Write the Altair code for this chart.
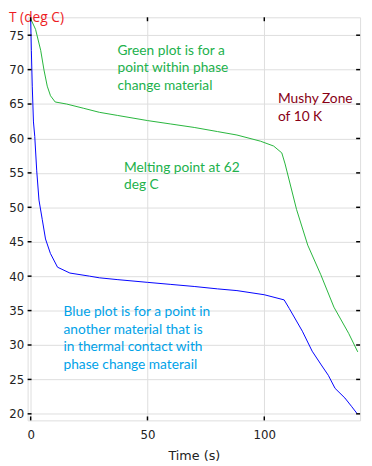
import altair as alt
import pandas as pd

# Green curve: point within phase change material
green_t = [0, 2.1, 4.3, 5.7, 7.1, 8.5, 10.5, 15.4, 22.5, 29.4, 37.1, 50, 60, 70, 80, 88.3,
           98.4, 104, 107.5, 108.9, 113.8, 118.6, 124.2, 129.8, 136.1, 140]
green_T = [77.4, 75.85, 72.8, 69.95, 67.6, 66.2, 65.3, 65.0, 64.4, 63.8, 63.35, 62.6, 62.1, 61.6, 61.0, 60.5,
           59.6, 58.9, 57.9, 56.3, 49.7, 44.5, 40.2, 35.5, 31.7, 29.0]

# Blue curve: point in another material in thermal contact
blue_t = [0, 0.3, 0.7, 1.2, 1.76, 2.6, 3.56, 4.98, 6.36, 8.45, 11.5, 16.8, 25.2, 29.4, 37.0, 50, 60, 70,
          80, 88.3, 100, 108.5, 110.7, 116.3, 120.5, 124.4, 127.4, 130.3, 134.5, 137.3, 139.8]
blue_T = [77.4, 72.8, 67.5, 62.4, 60.3, 55.3, 51.05, 48.2, 45.4, 43.3, 41.3, 40.45, 40.0, 39.76, 39.5, 39.1, 38.8, 38.5,
          38.15, 37.9, 37.3, 36.55, 35.3, 32.0, 29.1, 27.1, 25.6, 23.7, 22.3, 21.1, 20.0]

y_ticks = [20, 25, 30, 35, 40, 45, 50, 55, 60, 65, 70, 75]
x_ticks = [0, 50, 100]

W, H = 339, 411

df = pd.concat([
    pd.DataFrame({"t": green_t, "T": green_T, "s": "green"}),
    pd.DataFrame({"t": blue_t, "T": blue_T, "s": "blue"}),
])

xs = alt.Scale(domain=[-1.3, 141], nice=False, zero=False)
ys = alt.Scale(domain=[19.05, 77.6], nice=False, zero=False)

x_axis = alt.Axis(
    values=x_ticks, grid=True, gridColor="#dddddd", ticks=False, domain=False,
    labelFont="DejaVu Sans", labelFontSize=12, labelColor="#222222", labelPadding=9,
    labelOverlap=False,
    title="Time (s)", titleFont="DejaVu Sans", titleFontSize=13, titleFontWeight="normal",
    titleColor="#222222", titlePadding=10)
y_axis = alt.Axis(
    values=y_ticks, grid=True, gridColor="#dddddd", ticks=False, domain=False,
    labelFont="DejaVu Sans", labelFontSize=12, labelColor="#222222", labelPadding=4,
    labelOverlap=False,
    title="T (deg C)", titleAngle=0, titleX=-19.5, titleY=4, titleAlign="left",
    titleBaseline="alphabetic", titleFont="Open Sans", titleFontSize=14,
    titleFontWeight="normal", titleColor="#ed1c24")

lines = alt.Chart(df).mark_line(strokeWidth=1, clip=True).encode(
    x=alt.X("t:Q", scale=xs, axis=x_axis),
    y=alt.Y("T:Q", scale=ys, axis=y_axis),
    color=alt.Color("s:N", scale=alt.Scale(domain=["green", "blue"], range=["#25b53a", "#0000ff"]), legend=None),
    order=alt.Order("t:Q"),
)

ytd = pd.DataFrame({"v": y_ticks})
xtd = pd.DataFrame({"v": x_ticks})
tick_style = dict(color="black", strokeWidth=1.5)
left_ticks = alt.Chart(ytd).mark_rule(**tick_style).encode(
    y=alt.Y("v:Q", scale=ys, axis=y_axis), x=alt.value(0), x2=alt.value(4))
right_ticks = alt.Chart(ytd).mark_rule(**tick_style).encode(
    y=alt.Y("v:Q", scale=ys, axis=y_axis), x=alt.value(W - 4), x2=alt.value(W))
bottom_ticks = alt.Chart(xtd).mark_rule(**tick_style).encode(
    x=alt.X("v:Q", scale=xs, axis=x_axis), y=alt.value(H), y2=alt.value(H - 4))
top_ticks = alt.Chart(xtd).mark_rule(**tick_style).encode(
    x=alt.X("v:Q", scale=xs, axis=x_axis), y=alt.value(0), y2=alt.value(4))

def note(lines_, x, y, color):
    return alt.Chart(pd.DataFrame({"a": [0]})).mark_text(
        align="left", baseline="alphabetic", font="Lato", fontSize=14, lineHeight=18, color=color
    ).encode(x=alt.value(x), y=alt.value(y), text=alt.value(lines_))

n1 = note(["Green plot is for a", "point within phase", "change material"], 91.6, 38, "#22b14c")
n2 = note(["Mushy Zone", "of 10 K"], 255.3, 87.3, "#880015")
n3 = note(["Melting point at 62", "deg C"], 98.3, 157.3, "#22b14c")
n4 = note(["Blue plot is for a point in", "another material that is",
           "in thermal contact with", "phase change materail"], 36.6, 304.6, "#00a2e8")

chart = alt.layer(lines, left_ticks, right_ticks, bottom_ticks, top_ticks, n1, n2, n3, n4).properties(
    width=W, height=H,
    autosize=alt.AutoSizeParams(type="none"),
    padding={"left": 20, "top": 5, "right": 4, "bottom": 40},
).configure_view(stroke="black", strokeWidth=1.5).configure(background="white")

chart.save("out.html", embed_options={"renderer": "svg", "actions": False})
